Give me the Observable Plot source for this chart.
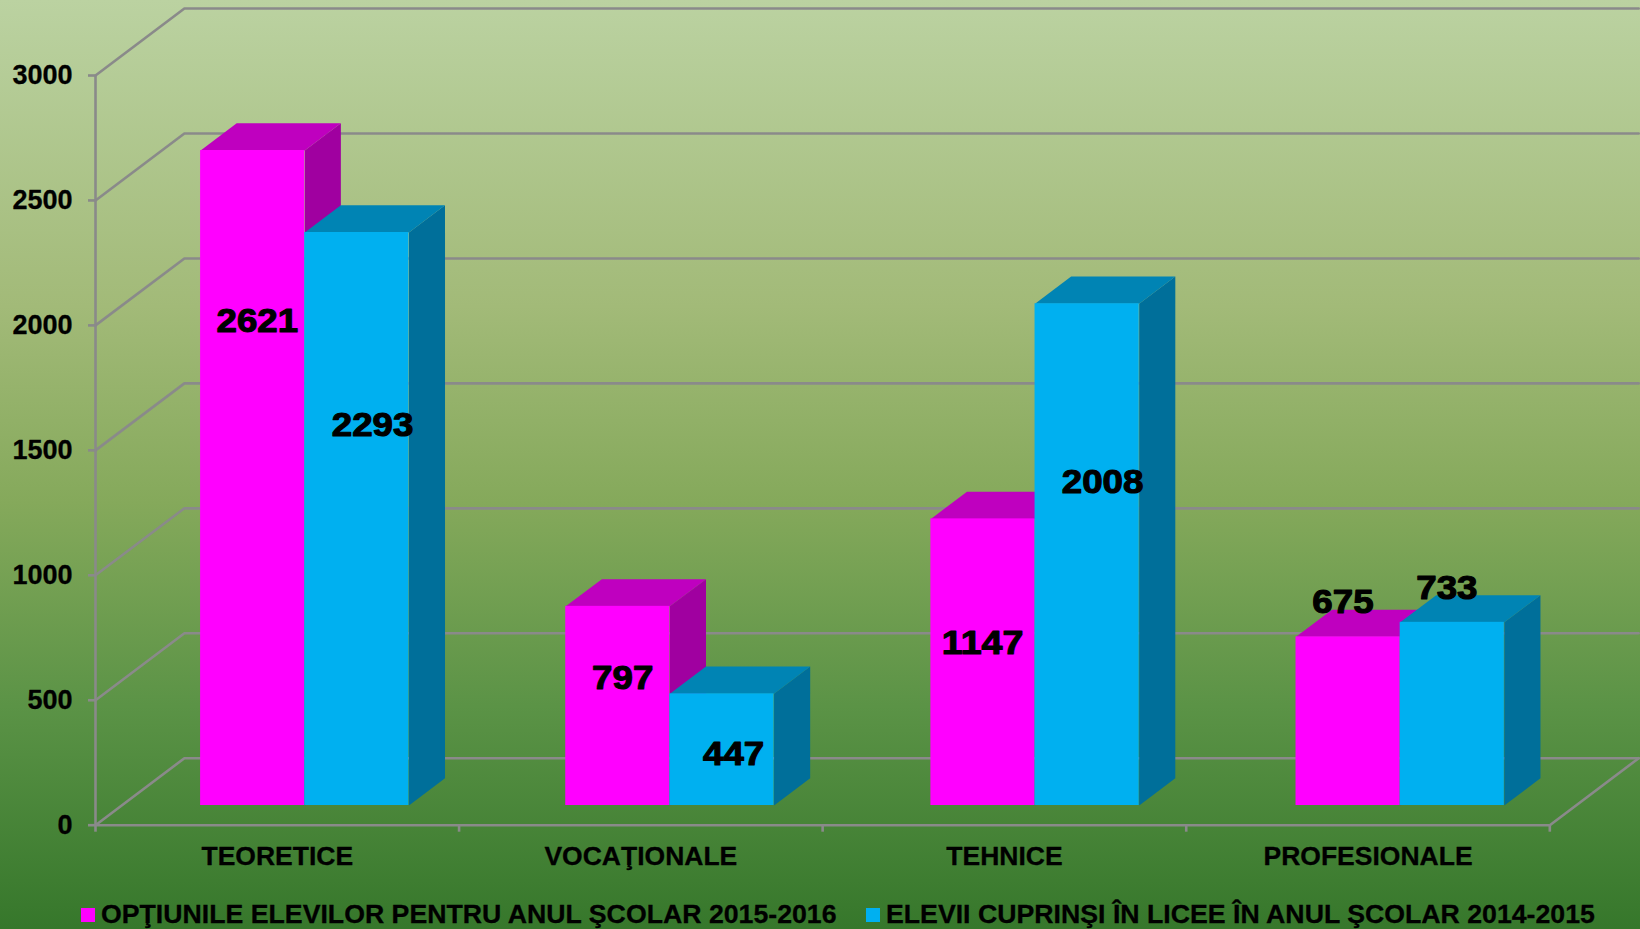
<!DOCTYPE html>
<html>
<head>
<meta charset="utf-8">
<script src="https://cdn.jsdelivr.net/npm/d3@7"></script>
<script src="https://cdn.jsdelivr.net/npm/@observablehq/plot@0.6"></script>
<style>
html,body{margin:0;padding:0;width:1640px;height:929px;overflow:hidden}
body{background:linear-gradient(180deg,#bbd2a1 0%,#a2ba78 33%,#85a95b 54%,#5b9346 76%,#36772b 100%);font-family:"Liberation Sans",Arial,sans-serif;font-weight:bold;color:#000}
#legend{position:relative;height:44px;width:1640px;font-size:26.7px;line-height:44px;white-space:nowrap;-webkit-text-stroke:0.3px #000}
#legend i{position:absolute;top:23px;width:14px;height:14px}
#legend span{position:absolute;top:7px}
svg{display:block}
</style>
</head>
<body>
<div id="chart"></div>
<div id="legend"></div>
<script>
const categories = ["TEORETICE", "VOCAŢIONALE", "TEHNICE", "PROFESIONALE"];
const seriesNames = ["OPŢIUNILE ELEVILOR PENTRU ANUL ŞCOLAR 2015-2016", "ELEVII CUPRINŞI ÎN LICEE ÎN ANUL ŞCOLAR 2014-2015"];
const options2015 = [2621, 797, 1147, 675];
const enrolled2014 = [2293, 447, 2008, 733];
const yTicks = [0, 500, 1000, 1500, 2000, 2500, 3000];

// hand-placed data label anchors, in chart units (category position, value)
const labelCat = [[0.445, 1.450, 2.440, 3.431], [0.762, 1.755, 2.770, 3.717]];
const labelVal = [[2015, 587, 727, 891], [1601, 283, 1371, 947]];

const faces = [
  {front: "#ff00ff", top: "#bf00bf", side: "#a000a0"},
  {front: "#00b0f0", top: "#0084b4", side: "#006f9a"}
];

// oblique projection: depth 0 = front plane, depth 1 = back wall
const depthX = 0.2445, depthY = 268;
const px = (c, d) => c + d * depthX;
const py = (v, d) => v + d * depthY;
const barFront = 0.294, barBack = 0.70, groupStart = 0.2172, barW = 0.2865, groupPitch = 1.0043;
const grayLine = "#8a8a8a";
const lineW = 2.6;

const values = [options2015, enrolled2014];
const marks = [];

// back wall + side wall grid
const grid = yTicks.flatMap(v => [
  {v, x: px(0, 0), y: py(v, 0)},
  {v, x: px(0, 1), y: py(v, 1)},
  {v, x: px(categories.length, 1), y: py(v, 1)}
]);
marks.push(Plot.line(grid, {x: "x", y: "y", z: "v", stroke: grayLine, strokeWidth: lineW}));
marks.push(Plot.line([{x: px(4, 0), y: py(0, 0)}, {x: px(4, 1), y: py(0, 1)}], {x: "x", y: "y", stroke: grayLine, strokeWidth: lineW}));
marks.push(Plot.ruleX([0], {y1: 0, y2: 3000, stroke: grayLine, strokeWidth: lineW}));
marks.push(Plot.ruleY([0], {x1: 0, x2: categories.length, stroke: grayLine, strokeWidth: lineW}));

// bars: side, top, front for each series
values.forEach((vals, s) => {
  const rows = vals.map((v, i) => {
    const l = i * groupPitch + groupStart + s * barW;
    return {i, v, l, r: l + barW};
  });
  const side = rows.flatMap(b => [
    {i: b.i, x: px(b.r, barFront), y: py(0, barFront)},
    {i: b.i, x: px(b.r, barBack), y: py(0, barBack)},
    {i: b.i, x: px(b.r, barBack), y: py(b.v, barBack)},
    {i: b.i, x: px(b.r, barFront), y: py(b.v, barFront)}
  ]);
  const top = rows.flatMap(b => [
    {i: b.i, x: px(b.l, barFront), y: py(b.v, barFront)},
    {i: b.i, x: px(b.r, barFront), y: py(b.v, barFront)},
    {i: b.i, x: px(b.r, barBack), y: py(b.v, barBack)},
    {i: b.i, x: px(b.l, barBack), y: py(b.v, barBack)}
  ]);
  marks.push(Plot.line(side, {x: "x", y: "y", z: "i", fill: faces[s].side, stroke: "none"}));
  marks.push(Plot.line(top, {x: "x", y: "y", z: "i", fill: faces[s].top, stroke: "none"}));
  marks.push(Plot.rectY(rows, {
    x1: b => px(b.l, barFront), x2: b => px(b.r, barFront),
    y1: () => py(0, barFront), y2: b => py(b.v, barFront),
    fill: faces[s].front
  }));
});

// axes
marks.push(Plot.axisY({ticks: yTicks, tickSize: 7, tickPadding: 16, stroke: grayLine, strokeWidth: lineW, fill: "#000", fontSize: 27, textStroke: "#000", textStrokeWidth: 0.3, label: null, tickFormat: d => String(d)}));
marks.push(Plot.axisX({ticks: [0, 1, 2, 3, 4], tickSize: 7, stroke: grayLine, strokeWidth: lineW, tickFormat: () => "", label: null}));
marks.push(Plot.axisX({ticks: categories.map((_, i) => i + 0.5), tickSize: 0, tickPadding: 21, fill: "#000", fontSize: 26.5, textStroke: "#000", textStrokeWidth: 0.3, label: null, tickFormat: d => categories[d - 0.5]}));

// data labels
values.forEach((vals, s) => {
  marks.push(Plot.text(vals, {
    x: (_, i) => labelCat[s][i], y: (_, i) => labelVal[s][i], text: d => String(d),
    fontSize: 33, fill: "#000", stroke: "#000", strokeWidth: 1.1, className: "vlabel"
  }));
});

const plot = Plot.plot({
  width: 1640, height: 885,
  marginLeft: 95, marginRight: 90.7, marginTop: 75, marginBottom: 60.3,
  x: {type: "linear", domain: [0, 4], axis: null},
  y: {domain: [0, 3000], axis: null},
  style: {background: "transparent", fontFamily: "'Liberation Sans',Arial,sans-serif", fontWeight: "bold", overflow: "visible"},
  marks
});
// the reference's value labels are set in an extended face
d3.select(plot).selectAll(".vlabel text")
  .attr("lengthAdjust", "spacingAndGlyphs")
  .attr("textLength", function () { return this.textContent.length * 20.4; });
document.getElementById("chart").append(plot);

const legendPos = [[81, 101], [866, 886]];
const legend = document.getElementById("legend");
seriesNames.forEach((name, s) => {
  const sw = document.createElement("i");
  sw.style.left = legendPos[s][0] + "px";
  sw.style.background = faces[s].front;
  const t = document.createElement("span");
  t.style.left = legendPos[s][1] + "px";
  t.textContent = name;
  legend.append(sw, t);
});
</script>
</body>
</html>
